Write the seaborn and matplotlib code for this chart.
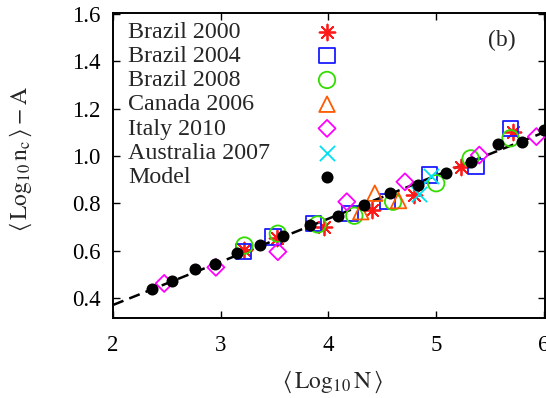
import matplotlib
matplotlib.use("Agg")
import matplotlib.pyplot as plt
import seaborn as sns
import pandas as pd

# ---- data ----
model_x = [2.36, 2.55, 2.76, 2.95, 3.15, 3.36, 3.58, 3.83, 4.09, 4.33, 4.57, 4.83, 5.09, 5.32, 5.57, 5.80, 6.00]
model_y = [0.438, 0.472, 0.523, 0.545, 0.589, 0.624, 0.663, 0.707, 0.747, 0.795, 0.845, 0.878, 0.927, 0.976, 1.051, 1.061, 1.110]

br2000_x = [3.22, 3.52, 3.96, 4.40, 4.79, 5.23, 5.71]
br2000_y = [0.603, 0.652, 0.701, 0.772, 0.835, 0.955, 1.103]

br2004_x = [3.21, 3.485, 3.86, 4.20, 4.55, 4.94, 5.37, 5.69]
br2004_y = [0.596, 0.657, 0.716, 0.758, 0.807, 0.920, 0.955, 1.117]

br2008_x = [3.22, 3.53, 3.90, 4.24, 4.60, 5.00, 5.32, 5.69]
br2008_y = [0.622, 0.672, 0.711, 0.748, 0.807, 0.885, 0.990, 1.075]

can2006_x = [4.30, 4.43, 4.65]
can2006_y = [0.765, 0.843, 0.812]

ita2010_x = [2.475, 2.955, 3.53, 4.17, 4.71, 5.40, 5.93]
ita2010_y = [0.462, 0.530, 0.596, 0.807, 0.891, 1.004, 1.082]

aus2007_x = [4.84, 4.95]
aus2007_y = [0.840, 0.915]

fit_x = [2.0, 6.0]
fit_y = [0.371, 1.100]

labels = ["Brazil 2000", "Brazil 2004", "Brazil 2008", "Canada 2006",
          "Italy 2010", "Australia 2007", "Model"]
x_ticks = [2, 3, 4, 5, 6]
y_ticks = [0.4, 0.6, 0.8, 1.0, 1.2, 1.4, 1.6]

# ---- style ----
sns.set_theme(style="ticks")
plt.rcParams["font.family"] = ["Liberation Serif", "DejaVu Serif"]
plt.rcParams["mathtext.fontset"] = "stix"

fig = plt.figure(figsize=(5.46, 3.98), dpi=100)
W, H = 546, 398
ax = fig.add_axes([113 / W, 1 - 318 / H, (545 - 113) / W, (318 - 13) / H])

sns.lineplot(x=fit_x, y=fit_y, ax=ax, color="black", linewidth=1.8,
             linestyle=(0, (4.5, 2.5)), zorder=2)

series = [
    (br2000_x, br2000_y, (8, 2, 0), "#ff1a1a", False, 130),
    (br2004_x, br2004_y, "s", "#1a1aff", True, 125),
    (br2008_x, br2008_y, "o", "#33dd00", True, 140),
    (can2006_x, can2006_y, "^", "#ff5a00", True, 125),
    (ita2010_x, ita2010_y, "D", "#ff00ff", True, 75),
    (aus2007_x, aus2007_y, "x", "#00e0f0", False, 120),
]
handles = []
for (xs, ys, mk, col, filled, s), lab in zip(series, labels):
    if filled:
        sns.scatterplot(x=xs, y=ys, ax=ax, marker=mk, s=s, facecolor="none",
                        edgecolor=col, linewidth=1.3, zorder=3)
    else:
        sns.scatterplot(x=xs, y=ys, ax=ax, marker=mk, s=s, color=col,
                        edgecolor=col, linewidth=1.3, zorder=3)
    handles.append(ax.collections[-1])

sns.scatterplot(x=model_x, y=model_y, ax=ax, marker="o", s=75, color="black",
                edgecolor="black", linewidth=0, zorder=4)
handles.append(ax.collections[-1])

ax.set_xlim(2, 6.01)
ax.set_ylim(0.316, 1.604)
ax.set_xticks(x_ticks)
ax.set_xticklabels([str(t) for t in x_ticks])
ax.set_yticks(y_ticks)
ax.set_yticklabels([f"{t:.1f}" for t in y_ticks])
ax.tick_params(direction="in", length=5, width=1, top=True, right=True,
               labelsize=16.5, colors="black")
ax.tick_params(axis="x", pad=12)
ax.tick_params(axis="y", pad=9)
for sp in ax.spines.values():
    sp.set_linewidth(1.4)
    sp.set_color("black")

ax.set_xlabel(r"$\langle\,\mathrm{Log}_{10}\,\mathrm{N}\,\rangle$", fontsize=17)
ax.set_ylabel(r"$\langle\,\mathrm{Log}_{10}\,\mathrm{n}_\mathrm{c}\,\rangle - \mathrm{A}$", fontsize=17)
ax.xaxis.set_label_coords(0.508, -0.165)
ax.yaxis.set_label_coords(-0.183, 0.52)

ax.text(502 / W, 1 - 40 / H, "(b)", transform=fig.transFigure, fontsize=17,
        ha="center", va="center")

# legend: labels column and markers column
leg_y = 1 - 21 / H
leg1 = ax.legend(handles, labels, loc="upper left", bbox_to_anchor=(128 / W, leg_y),
                 bbox_transform=fig.transFigure, frameon=False, fontsize=17.3,
                 handlelength=0, handletextpad=0, borderpad=0, borderaxespad=0,
                 labelspacing=0.1)
for h in leg1.legend_handles:
    h.set_visible(False)
ax.add_artist(leg1)
leg2 = ax.legend(handles, [" "] * len(handles), loc="upper left",
                 bbox_to_anchor=(315 / W, leg_y), bbox_transform=fig.transFigure,
                 frameon=False, fontsize=17.3, handlelength=1.0, handletextpad=0,
                 borderpad=0, borderaxespad=0, labelspacing=0.1)

fig.savefig("out.png", dpi=100)
